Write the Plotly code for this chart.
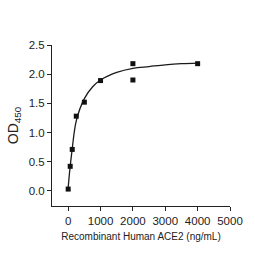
import plotly.graph_objects as go

conc = [0, 62.5, 125, 250, 500, 1000, 2000, 2000, 4000]
od = [0.03, 0.42, 0.71, 1.28, 1.52, 1.89, 2.18, 1.90, 2.18]

fit_x = [0, 31, 62.5, 125, 250, 500, 750, 1000, 1500, 2000, 2500, 3000, 3500, 4000]
fit_y = [0.05, 0.25, 0.42, 0.72, 1.20, 1.58, 1.78, 1.90, 2.03, 2.10, 2.13, 2.16, 2.18, 2.19]

x_ticks = [0, 1000, 2000, 3000, 4000, 5000]
y_ticks = [0.0, 0.5, 1.0, 1.5, 2.0, 2.5]

fig = go.Figure()
fig.add_trace(go.Scatter(x=fit_x, y=fit_y, mode="lines",
                         line=dict(color="#1a1a1a", width=1.3, shape="spline"),
                         hoverinfo="skip"))
fig.add_trace(go.Scatter(x=conc, y=od, mode="markers",
                         marker=dict(symbol="square", size=5, color="#111111")))

tick_font = dict(family="Liberation Sans Narrow, Arial Narrow, Liberation Sans, sans-serif", size=11.5, color="#222222")
title_font = dict(family="Liberation Sans, Arial, sans-serif", size=10, color="#222222")
fig.update_layout(
    width=255, height=255,
    margin=dict(l=52, r=25, t=45, b=49),
    paper_bgcolor="white", plot_bgcolor="white",
    showlegend=False, font=title_font,
    xaxis=dict(range=[-500, 5000], tickvals=x_ticks, ticktext=[str(v) for v in x_ticks],
               showgrid=False, zeroline=False, showline=True, linecolor="#222222",
               linewidth=1, ticks="outside", ticklen=4, tickcolor="#222222",
               tickfont=tick_font,
               title=dict(text="Recombinant Human ACE2 (ng/mL)", standoff=7, font=title_font)),
    yaxis=dict(range=[-0.26, 2.5], tickvals=y_ticks, ticktext=[f"{v:.1f}" for v in y_ticks],
               showgrid=False, zeroline=False, showline=True, linecolor="#222222",
               linewidth=1, ticks="outside", ticklen=4, tickcolor="#222222",
               tickfont=tick_font,
               title=dict(text="OD<sub>450</sub>", standoff=6,
                          font=dict(family="Liberation Sans, Arial, sans-serif", size=14, color="#222222"))),
)
fig.write_html("out.html")
